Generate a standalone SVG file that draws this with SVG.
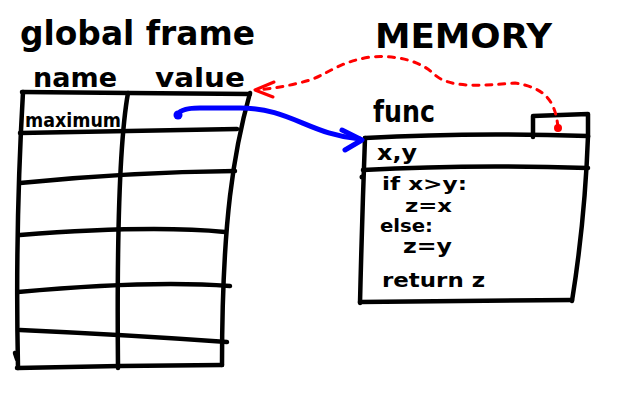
<svg xmlns="http://www.w3.org/2000/svg" width="640" height="400" viewBox="0 0 640 400">
<style>
.ink{fill:none;stroke:#000;stroke-width:4.5;stroke-linecap:round;stroke-linejoin:round}
.t{font-family:"DejaVu Sans","Liberation Sans",sans-serif;font-weight:bold;fill:#000}
.blue{fill:none;stroke:#0000ff;stroke-width:5;stroke-linecap:round;stroke-linejoin:round}
.red{fill:none;stroke:#ff0000;stroke-width:3;stroke-linecap:round;stroke-dasharray:6 7}
.redsolid{fill:none;stroke:#ff0000;stroke-width:3;stroke-linecap:round;stroke-linejoin:round}
</style>
<rect width="640" height="400" fill="#fff"/>
<g id="global-frame">
  <text class="t" x="20" y="45" font-size="34" textLength="235" lengthAdjust="spacingAndGlyphs">global frame</text>
  <text class="t" x="33" y="87" font-size="26" textLength="84" lengthAdjust="spacingAndGlyphs">name</text>
  <text class="t" x="155" y="87" font-size="26" textLength="90" lengthAdjust="spacingAndGlyphs">value</text>
  <path class="ink" d="M22,92 L130,93 L250,94"/>
  <path class="ink" d="M23,92 Q15,230 18,368"/>
  <path class="ink" d="M17,368 L120,366 L222,365"/>
  <path class="ink" d="M250,93 C234,150 222,220 222,365"/>
  <path class="ink" d="M128,93 Q116,160 118,368"/>
  <path class="ink" d="M20,133 L237,129"/>
  <path class="ink" d="M20,183 Q130,172 235,171"/>
  <path class="ink" d="M20,235 Q150,225 225,232"/>
  <path class="ink" d="M18,292 Q150,280 230,286"/>
  <path class="ink" d="M20,330 Q130,335 227,342"/>
  <path class="ink" d="M15,353 L17,359"/>
  <text class="t" x="25" y="127" font-size="19" textLength="96" lengthAdjust="spacingAndGlyphs">maximum</text>
</g>
<g id="memory-label">
  <text class="t" x="375" y="48" font-size="34" textLength="177" lengthAdjust="spacingAndGlyphs">MEMORY</text>
</g>
<g id="func-object">
  <text class="t" x="373" y="122" font-size="30" textLength="62" lengthAdjust="spacingAndGlyphs">func</text>
  <path class="ink" d="M533,137 L533,116 L588,114 L588,137"/>
  <path class="ink" d="M365,138 Q470,132 588,136"/>
  <path class="ink" d="M365,138 Q362,220 360,303"/>
  <path class="ink" d="M360,302 L572,300"/>
  <path class="ink" d="M588,136 Q585,220 572,301"/>
  <path class="ink" d="M363,170 Q470,164 588,168"/>
  <circle cx="362" cy="177" r="2.5" fill="#000"/>
  <text class="t" x="377" y="160" font-size="22" textLength="40" lengthAdjust="spacingAndGlyphs">x,y</text>
  <text class="t" x="382" y="190" font-size="17" textLength="85" lengthAdjust="spacingAndGlyphs">if x&gt;y:</text>
  <text class="t" x="405" y="212" font-size="17" textLength="47" lengthAdjust="spacingAndGlyphs">z=x</text>
  <text class="t" x="380" y="232" font-size="17" textLength="53" lengthAdjust="spacingAndGlyphs">else:</text>
  <text class="t" x="403" y="253" font-size="19" textLength="49" lengthAdjust="spacingAndGlyphs">z=y</text>
  <text class="t" x="382" y="287" font-size="19" textLength="103" lengthAdjust="spacingAndGlyphs">return z</text>
</g>
<g id="connectors">
  <circle cx="178" cy="115" r="4.5" fill="#0000ff"/>
  <path class="blue" d="M178,116 Q178,108 200,108 L240,108 C290,108 310,135 360,139"/>
  <path class="blue" d="M342,130 L362,140 L345,150"/>
  <circle cx="558" cy="128" r="4" fill="#ff0000"/>
  <path class="red" d="M558,127 C555,100 545,88 515,83 C480,86 450,88 435,75 C420,60 395,55 370,57 C340,62 330,72 313,79 C295,85 275,88 258,90"/>
  <path class="redsolid" d="M274,82 L255,90 L273,97"/>
</g>
</svg>
